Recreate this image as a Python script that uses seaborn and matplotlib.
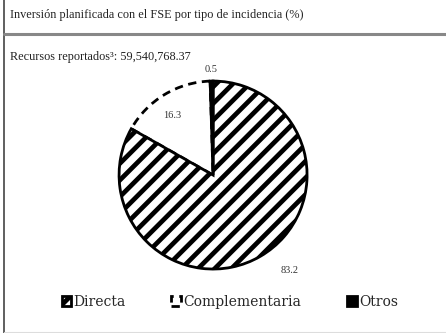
import numpy as np
import matplotlib
matplotlib.use("Agg")
import matplotlib.pyplot as plt
import seaborn as sns
from matplotlib.lines import Line2D

# Data
categories = ["Directa", "Complementaria", "Otros"]
values = [83.2, 16.3, 0.5]
value_labels = ["83.2", "16.3", "0.5"]
label_radius = [1.3, 0.77, 1.12]
label_angle_shift = [8.5, 3.0, 0.0]

title = "Inversión planificada con el FSE por tipo de incidencia (%)"
subtitle = "Recursos reportados³: 59,540,768.37"

sns.set_style("white")
plt.rcParams["font.family"] = ["Liberation Serif", "DejaVu Serif"]
plt.rcParams["hatch.linewidth"] = 3.4

fig = plt.figure(figsize=(4.46, 3.33), dpi=100)
ax = fig.add_axes([0.267, 0.192, 0.4215, 0.5646])

wedges, _ = ax.pie(
    values,
    startangle=90,
    counterclock=False,
    radius=1.0,
    wedgeprops=dict(linewidth=2),
)

# styles per wedge
wedges[0].set_facecolor("white")
wedges[0].set_edgecolor("black")
wedges[0].set_hatch("//")
wedges[0].set_zorder(3)

wedges[1].set_facecolor("white")
wedges[1].set_edgecolor("black")
wedges[1].set_linestyle((0, (3, 2)))
wedges[1].set_zorder(2)

wedges[2].set_facecolor("black")
wedges[2].set_edgecolor("black")
wedges[2].set_zorder(4)

# value labels placed by wedge angle
for w, lab, r, shift in zip(wedges, value_labels, label_radius, label_angle_shift):
    ang = np.deg2rad((w.theta1 + w.theta2) / 2 + shift)
    ax.text(r * np.cos(ang), r * np.sin(ang), lab, ha="center", va="center",
            fontsize=7.5, color="#333333")

ax.set_xlim(-1, 1)
ax.set_ylim(-1, 1)
ax.axis("off")

# header texts
fig.text(0.022, 0.955, title, fontsize=8.8, va="center", ha="left", color="#222222")
fig.text(0.022, 0.828, subtitle, fontsize=8.8, va="center", ha="left", color="#222222")

# frame lines
fig.add_artist(Line2D([0.009, 0.009], [0, 1], color="#444444", lw=1.2))
fig.add_artist(Line2D([0.009, 1], [0.897, 0.897], color="#888888", lw=2.2))
fig.add_artist(Line2D([0.009, 1], [0.004, 0.004], color="#dddddd", lw=0.8))

fig.legend(
    wedges,
    categories,
    loc="center",
    bbox_to_anchor=(0.515, 0.093),
    ncol=3,
    frameon=False,
    prop={"family": ["DejaVu Serif"], "size": 10},
    handlelength=0.7,
    handleheight=0.7,
    handletextpad=0.15,
    columnspacing=3.3,
)

fig.savefig("out.png", dpi=100)
